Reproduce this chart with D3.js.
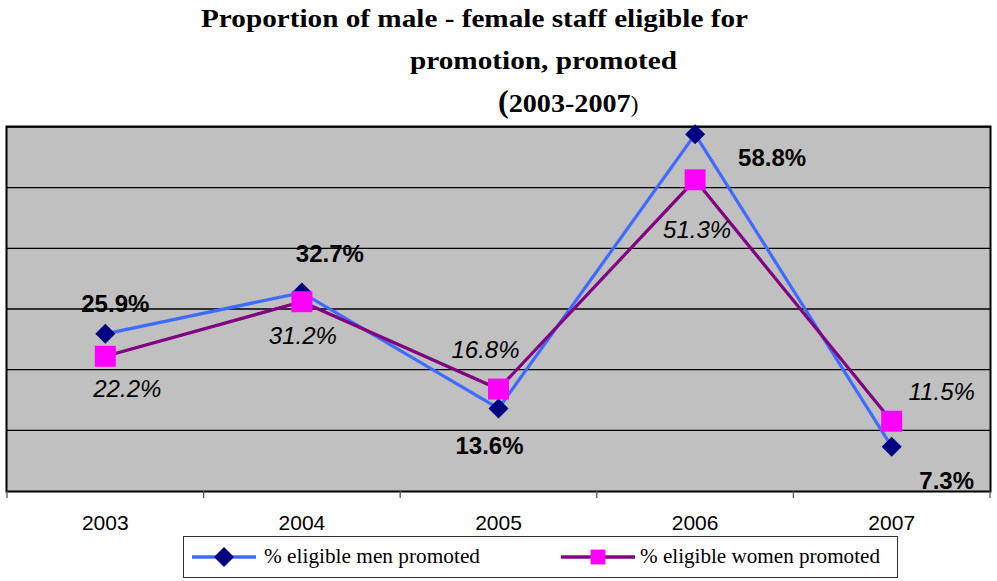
<!DOCTYPE html>
<html>
<head>
<meta charset="utf-8">
<script src="https://cdn.jsdelivr.net/npm/d3@7"></script>
<style>
  html, body { margin: 0; padding: 0; background: #fff; }
  svg { display: block; }
  .serif { font-family: "Liberation Serif", "Times New Roman", Times, "DejaVu Serif", serif; }
  .sans { font-family: "Liberation Sans", Arial, Helvetica, sans-serif; }
</style>
</head>
<body>
<svg id="chart" width="997" height="581"></svg>
<script>
// Data
const years = ["2003", "2004", "2005", "2006", "2007"];
const menPromoted = [25.9, 32.7, 13.6, 58.8, 7.3];
const womenPromoted = [22.2, 31.2, 16.8, 51.3, 11.5];
const gridValues = [10, 20, 30, 40, 50, 60];
const seriesNames = ["% eligible men promoted", "% eligible women promoted"];

const svg = d3.select("#chart");
const plot = { left: 7, right: 990, top: 127, bottom: 491 };

const x = d3.scaleBand().domain(years).range([plot.left, plot.right]);
const y = d3.scaleLinear().domain([0, 60]).range([plot.bottom, plot.top]);
const cx = d => x(d) + x.bandwidth() / 2;

// Title
const title = svg.append("g")
  .attr("class", "serif")
  .attr("font-weight", "bold")
  .attr("fill", "#000");
title.append("text").attr("x", 201).attr("y", 27).attr("font-size", 25)
  .attr("textLength", 547).attr("lengthAdjust", "spacingAndGlyphs")
  .text("Proportion of male - female staff eligible for");
title.append("text").attr("x", 410).attr("y", 69).attr("font-size", 25)
  .attr("textLength", 267).attr("lengthAdjust", "spacingAndGlyphs")
  .text("promotion, promoted");
const t3 = title.append("text").attr("x", 498).attr("y", 112).attr("font-size", 25);
t3.append("tspan").attr("font-size", 32).text("(");
t3.append("tspan").attr("textLength", 122).attr("lengthAdjust", "spacingAndGlyphs").text("2003-2007");
t3.append("tspan").attr("font-size", 23).attr("font-weight", "normal").text(")");

// Plot background
svg.append("rect")
  .attr("x", plot.left).attr("y", plot.top)
  .attr("width", plot.right - plot.left).attr("height", plot.bottom - plot.top)
  .attr("fill", "#c0c0c0");

// Horizontal gridlines
svg.append("g").selectAll("line").data(gridValues).join("line")
  .attr("x1", plot.left).attr("x2", plot.right)
  .attr("y1", d => y(d)).attr("y2", d => y(d))
  .attr("stroke", "#000").attr("stroke-width", 1.3);

// Plot frame
svg.append("rect")
  .attr("x", plot.left - 0.5).attr("y", plot.top - 0.5)
  .attr("width", plot.right - plot.left + 1).attr("height", plot.bottom - plot.top + 1)
  .attr("fill", "none").attr("stroke", "#000").attr("stroke-width", 2);

// Category axis
const xAxis = d3.axisBottom(x).tickSize(0).tickPadding(0);
const gx = svg.append("g").attr("transform", `translate(0,${plot.bottom})`).call(xAxis);
gx.select(".domain").remove();
gx.attr("font-family", null).attr("font-size", null);
gx.selectAll("text")
  .attr("class", "sans")
  .attr("font-size", 21).attr("fill", "#000")
  .attr("dy", 0).attr("y", 39);
// Tick marks between categories
const boundaries = years.map(d => x(d)).concat([plot.right]);
svg.append("g").selectAll("line").data(boundaries).join("line")
  .attr("x1", d => d).attr("x2", d => d)
  .attr("y1", plot.bottom).attr("y2", plot.bottom + 7)
  .attr("stroke", "#555").attr("stroke-width", 1.3);

const line = d3.line().x((d, i) => cx(years[i])).y(d => y(d));

// Series lines
svg.append("path").datum(menPromoted)
  .attr("d", line).attr("fill", "none")
  .attr("stroke", "#3f6bff").attr("stroke-width", 3.2);
svg.append("path").datum(womenPromoted)
  .attr("d", line).attr("fill", "none")
  .attr("stroke", "#800080").attr("stroke-width", 3.2);

// Markers
const diamond = d3.symbol().type(d3.symbolSquare).size(200);
svg.append("g").selectAll("path").data(menPromoted).join("path")
  .attr("d", diamond)
  .attr("transform", (d, i) => `translate(${cx(years[i])},${y(d)}) rotate(45)`)
  .attr("fill", "#000080");
const square = d3.symbol().type(d3.symbolSquare).size(440);
svg.append("g").selectAll("path").data(womenPromoted).join("path")
  .attr("d", square)
  .attr("transform", (d, i) => `translate(${cx(years[i])},${y(d)})`)
  .attr("fill", "#ff00ff");

// Data labels
const fmt = v => v.toFixed(1) + "%";
const menOffsets = [[10, -22], [28, -31], [-9, 46], [77, 32], [55, 42]];
const womenOffsets = [[22, 41], [1, 42], [-13, -31], [2, 58], [50, -21]];
svg.append("g").selectAll("text").data(menPromoted).join("text")
  .attr("class", "sans")
  .attr("x", (d, i) => cx(years[i]) + menOffsets[i][0])
  .attr("y", (d, i) => y(d) + menOffsets[i][1])
  .attr("text-anchor", "middle")
  .attr("font-size", 24).attr("font-weight", "bold").attr("fill", "#000")
  .text(fmt);
svg.append("g").selectAll("text").data(womenPromoted).join("text")
  .attr("class", "sans")
  .attr("x", (d, i) => cx(years[i]) + womenOffsets[i][0])
  .attr("y", (d, i) => y(d) + womenOffsets[i][1])
  .attr("text-anchor", "middle")
  .attr("font-size", 24).attr("font-style", "italic").attr("fill", "#000")
  .text(fmt);

// Legend
const legend = svg.append("g");
legend.append("rect")
  .attr("x", 183.5).attr("y", 536.5).attr("width", 714).attr("height", 41)
  .attr("fill", "#fff").attr("stroke", "#333").attr("stroke-width", 1);
const legendItems = [
  { name: seriesNames[0], x0: 192, x1: 256, color: "#3f6bff", sym: diamond, rot: 45, fill: "#000080", tx: 264, len: 216 },
  { name: seriesNames[1], x0: 561, x1: 635, color: "#800080", sym: d3.symbol().type(d3.symbolSquare).size(220), rot: 0, fill: "#ff00ff", tx: 640, len: 240 }
];
legendItems.forEach(it => {
  const ly = 557;
  legend.append("line").attr("x1", it.x0).attr("x2", it.x1).attr("y1", ly).attr("y2", ly)
    .attr("stroke", it.color).attr("stroke-width", 3.5);
  legend.append("path").attr("d", it.sym)
    .attr("transform", `translate(${(it.x0 + it.x1) / 2},${ly}) rotate(${it.rot})`)
    .attr("fill", it.fill);
  legend.append("text").attr("class", "serif").attr("x", it.tx).attr("y", ly + 6)
    .attr("font-size", 20).attr("fill", "#000")
    .attr("textLength", it.len).attr("lengthAdjust", "spacingAndGlyphs")
    .text(it.name);
});
</script>
</body>
</html>
